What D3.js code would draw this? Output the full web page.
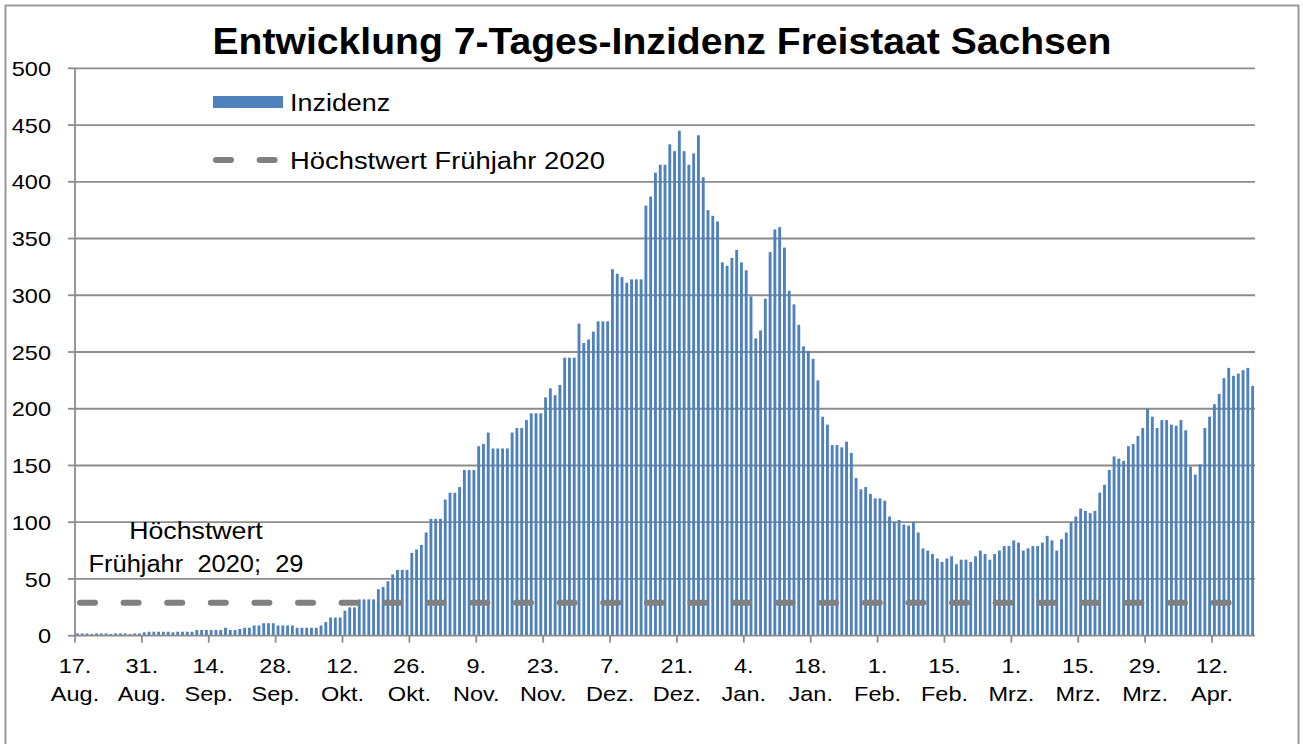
<!DOCTYPE html>
<html><head><meta charset="utf-8">
<script src="https://cdn.jsdelivr.net/npm/d3@7/dist/d3.min.js"></script>
<style>
body{margin:0;background:#fff}
text{font-family:"Liberation Sans",Arial,sans-serif;fill:#000}
</style>
</head><body>
<svg id="chart" width="1303" height="744"></svg>
<script>
// ---------------- data ----------------
const chartTitle = "Entwicklung 7-Tages-Inzidenz Freistaat Sachsen";
const startDay = "17.08.2020";
// daily 7-day incidence, 17 Aug 2020 .. 20 Apr 2021
const incidence = [
  2,2,2,1.5,2,2,2,1.5,2,2,2,1.5,2,2,
  3,3.5,3.5,3.5,3.5,3.5,3,3.5,3.5,3.5,3.5,
  5,5,5,5,5,5,
  7,5,5,6,7,7,9,9,11,11,11,9,9,9,9,7,7,7,7,7,9,12,
  16,16,16,22,25,25,32,32,32,32,41,43,48,54,58,58,58,73,76,80,91,103,103,103,120,126,126,131,146,146,146,167,169,179,165,165,165,165,179,183,183,190,196,
  196,196,210,218,212,221,245,245,245,275,258,261,268,277,277,277,323,319,316,311,314,314,314,379,387,408,415,415,433,427,445,427,415,425,441,
  404,375,370,365,329,326,333,340,329,322,299,262,269,297,338,358,360,342,304,292,274,255,251,244,225,193,186,168,168,166,171,161,139,129,131,
  125,121,121,119,105,100,102,98,97,100,91,77,75,72,68,65,68,70,63,67,67,65,70,75,72,67,72,75,79,79,84,82,75,77,79,79,82,88,84,75,
  85,91,100,105,112,110,108,110,126,133,146,158,156,154,167,169,176,183,200,193,183,190,190,186,185,190,181,149,142,151,183,193,204,213,227,236,229,231,234,236,220
];
const springPeak = 29;
const seriesNames = ["Inzidenz", "Höchstwert Frühjahr 2020"];
const annotationLines = ["Höchstwert", "Frühjahr  2020;  29"];
const yTickValues = [0,50,100,150,200,250,300,350,400,450,500];
const xTickDayIndex = [0,14,28,42,56,70,84,98,112,126,140,154,168,182,196,210,224,238];
const xTickDayLabels = ["17.","31.","14.","28.","12.","26.","9.","23.","7.","21.","4.","18.","1.","15.","1.","15.","29.","12."];
const xTickMonthLabels = ["Aug.","Aug.","Sep.","Sep.","Okt.","Okt.","Nov.","Nov.","Dez.","Dez.","Jan.","Jan.","Feb.","Feb.","Mrz.","Mrz.","Mrz.","Apr."];

// ---------------- layout ----------------
const svg = d3.select("#chart");
const L = 75, R = 1255, T = 68.3, B = 635.7;
const barColor = "#4F81BD", gridColor = "#8c8c8c", dashColor = "#808080";

// horizontally stretch text (reference glyphs are wider than tall)
function stretch(sel, sx) {
  sel.each(function() {
    const w = this.getComputedTextLength();
    d3.select(this).attr("textLength", w * sx).attr("lengthAdjust", "spacingAndGlyphs");
  });
}

const x = d3.scaleBand().domain(d3.range(incidence.length)).range([L, R]).paddingInner(0.4).paddingOuter(0.2);
const xDay = d3.scaleLinear().domain([0, incidence.length]).range([L, R]);
const y = d3.scaleLinear().domain([0, 500]).range([B, T]);

// outer frame
svg.append("rect").attr("x",5.5).attr("y",5.5).attr("width",1293).attr("height",760)
  .attr("fill","none").attr("stroke","#9a9a9a").attr("stroke-width",2);

// gridlines
svg.append("g").selectAll("line").data(yTickValues.filter(v=>v>0)).join("line")
  .attr("x1",L).attr("x2",R).attr("y1",d=>y(d)).attr("y2",d=>y(d))
  .attr("stroke",gridColor).attr("stroke-width",1.8);

// bars
svg.append("g").selectAll("rect").data(incidence).join("rect")
  .attr("x",(d,i)=>x(i)).attr("width",x.bandwidth())
  .attr("y",d=>y(d)).attr("height",d=>y(0)-y(d))
  .attr("fill",barColor);

// threshold dashed line
svg.append("line").attr("x1",L+5).attr("x2",R).attr("y1",y(springPeak)).attr("y2",y(springPeak))
  .attr("stroke",dashColor).attr("stroke-width",6).attr("stroke-linecap","round")
  .attr("stroke-dasharray","15,28.6");

// axes lines
const axisG = svg.append("g").attr("stroke",gridColor).attr("stroke-width",1.8);
axisG.append("line").attr("x1",L).attr("x2",L).attr("y1",T).attr("y2",B);
axisG.append("line").attr("x1",L).attr("x2",R).attr("y1",B).attr("y2",B);
axisG.selectAll(".yt").data(yTickValues).join("line").attr("class","yt")
  .attr("x1",L-7).attr("x2",L).attr("y1",d=>y(d)).attr("y2",d=>y(d));
axisG.selectAll(".xt").data(xTickDayIndex).join("line").attr("class","xt")
  .attr("x1",d=>xDay(d)).attr("x2",d=>xDay(d)).attr("y1",B).attr("y2",B+7);

// y labels
svg.append("g").selectAll("text").data(yTickValues).join("text")
  .attr("x",51).attr("y",d=>y(d)).attr("dy","0.36em").attr("text-anchor","end")
  .attr("font-size",21).text(d=>d).call(stretch, 1.12);

// x labels
const xl = svg.append("g").selectAll("g").data(xTickDayIndex).join("g")
  .attr("transform",d=>`translate(${xDay(d)},0)`);
xl.append("text").attr("y",673).attr("text-anchor","middle").attr("font-size",21)
  .text((d,i)=>xTickDayLabels[i]).call(stretch, 1.12);
xl.append("text").attr("y",701).attr("text-anchor","middle").attr("font-size",21)
  .text((d,i)=>xTickMonthLabels[i]).call(stretch, 1.12);

// title
svg.append("text").attr("x",662).attr("y",54).attr("text-anchor","middle")
  .attr("font-size",37).attr("font-weight","bold")
  .attr("textLength",899).attr("lengthAdjust","spacingAndGlyphs").text(chartTitle);

// legend
svg.append("rect").attr("x",213).attr("y",96).attr("width",70).attr("height",12).attr("fill",barColor);
svg.append("text").attr("x",290).attr("y",103).attr("dy","0.36em").attr("font-size",23)
  .text(seriesNames[0]).call(stretch, 1.17);
svg.append("line").attr("x1",216).attr("x2",280).attr("y1",160).attr("y2",160)
  .attr("stroke",dashColor).attr("stroke-width",6).attr("stroke-linecap","round")
  .attr("stroke-dasharray","15,28.6");
svg.append("text").attr("x",290).attr("y",161).attr("dy","0.36em").attr("font-size",23)
  .text(seriesNames[1]).call(stretch, 1.19);

// annotation
svg.append("g").selectAll("text").data(annotationLines).join("text")
  .attr("x",196).attr("y",(d,i)=>531+i*33).attr("dy","0.36em").attr("text-anchor","middle")
  .attr("font-size",23).attr("xml:space","preserve").style("white-space","pre")
  .text(d=>d)
  .each(function(d,i){
    const w = this.getComputedTextLength();
    d3.select(this).attr("textLength", i === 0 ? w*1.16 : 215).attr("lengthAdjust","spacingAndGlyphs");
  });
</script>
</body></html>
